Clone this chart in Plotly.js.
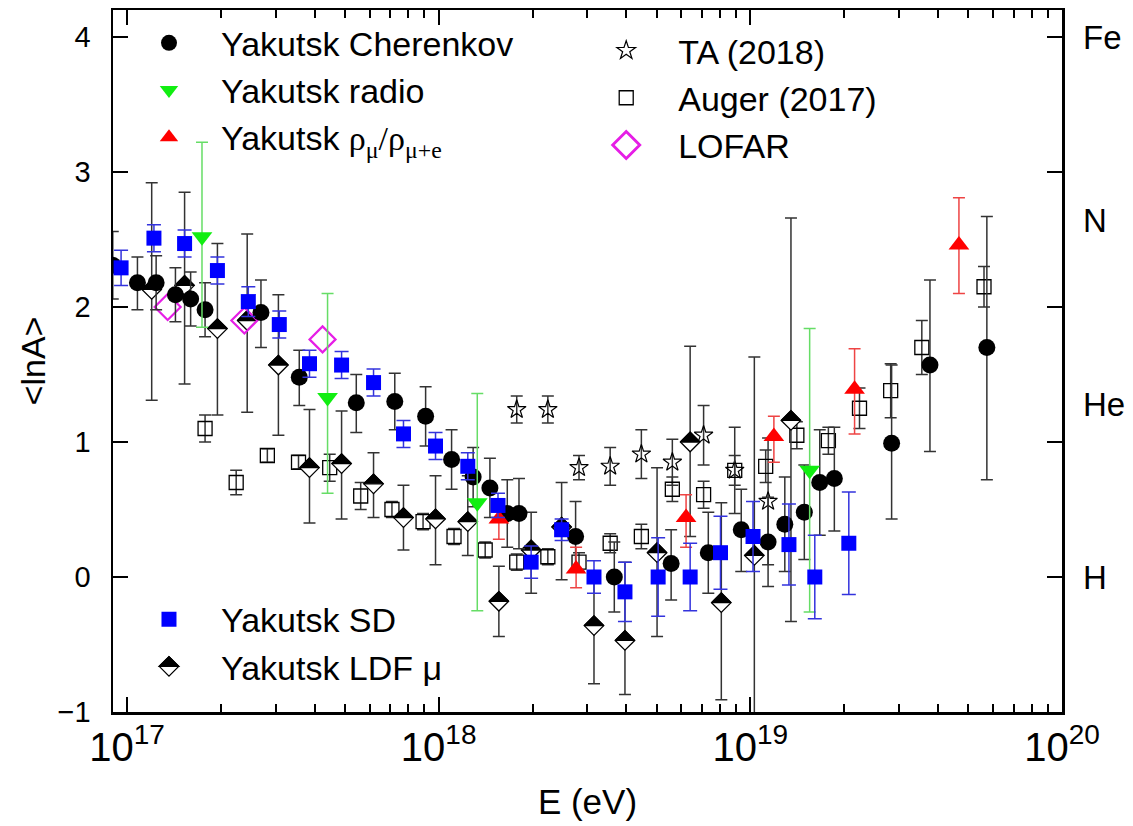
<!DOCTYPE html>
<html><head><meta charset="utf-8">
<script src="https://cdn.plot.ly/plotly-3.0.1.min.js"></script>
<style>html,body{margin:0;padding:0;background:#fff}#chart{width:1133px;height:826px}</style>
</head><body><div id="chart"></div>
<script>
// ---------- data (E in eV, <lnA>) ----------
const cherE   = [9.0e16,1.08e17,1.24e17,1.43e17,1.60e17,1.78e17,2.69e17,3.57e17,5.44e17,7.23e17,9.08e17,1.10e18,1.29e18,1.46e18,1.66e18,1.81e18,2.75e18,3.66e18,5.57e18,7.33e18,9.35e18,1.14e19,1.29e19,1.49e19,1.67e19,1.86e19,2.84e19,3.77e19,5.74e19];
const cherY   = [2.31,2.18,2.18,2.09,2.06,1.98,1.96,1.48,1.29,1.30,1.19,0.87,0.74,0.66,0.47,0.47,0.30,0.00,0.10,0.18,0.35,0.26,0.39,0.48,0.70,0.73,0.99,1.57,1.70];
const cherUp  = [0.25,0.19,0.20,0.20,0.20,0.20,0.24,0.20,0.21,0.21,0.22,0.22,0.22,0.22,0.25,0.26,0.26,0.26,0.25,0.30,0.30,0.33,0.35,0.35,0.39,0.38,0.58,0.63,0.97];
const cherLo  = [0.25,0.20,0.20,0.20,0.20,0.20,0.26,0.21,0.22,0.21,0.22,0.22,0.22,0.22,0.25,0.26,0.26,0.26,0.27,0.30,0.31,0.33,0.35,0.35,0.39,0.39,0.56,0.64,0.98];

const radioE  = [1.74e17,4.40e17,1.33e18,1.55e19];
const radioY  = [2.52,1.33,0.55,0.79];
const radioUp = [0.70,0.77,0.81,1.05];
const radioLo = [0.67,0.71,0.80,1.05];

const rhoE    = [1.56e18,2.76e18,6.22e18,1.19e19,2.16e19,4.67e19];
const rhoY    = [0.43,0.06,0.44,1.04,1.39,2.46];
const rhoUp   = [0.10,0.16,0.17,0.15,0.30,0.35];
const rhoLo   = [0.15,0.14,0.22,0.19,0.33,0.36];

const sdE     = [9.57e16,1.22e17,1.53e17,1.95e17,2.45e17,3.08e17,3.85e17,4.88e17,6.18e17,7.71e17,9.77e17,1.24e18,1.55e18,1.98e18,2.48e18,3.15e18,3.96e18,5.06e18,6.41e18,8.02e18,1.02e19,1.33e19,1.61e19,2.07e19];
const sdY     = [2.29,2.51,2.47,2.27,2.04,1.87,1.58,1.57,1.44,1.06,0.97,0.82,0.53,0.11,0.35,0.00,-0.11,0.00,0.00,0.18,0.30,0.24,0.00,0.25];
const sdErr   = [0.13,0.10,0.10,0.10,0.11,0.10,0.10,0.10,0.10,0.10,0.10,0.10,0.09,0.12,0.08,0.12,0.22,0.29,0.25,0.27,0.26,0.30,0.31,0.38];

const ldfE    = [1.20e17,1.53e17,1.95e17,2.43e17,3.06e17,3.85e17,4.88e17,6.18e17,7.71e17,9.77e17,1.24e18,1.56e18,1.98e18,2.48e18,3.15e18,3.96e18,5.02e18,6.41e18,8.07e18,1.03e19,1.35e19];
const ldfY    = [2.13,2.16,1.84,1.90,1.57,0.81,0.84,0.69,0.44,0.43,0.41,-0.18,0.20,0.37,-0.36,-0.47,0.18,1.00,-0.19,0.16,1.16];
const ldfUp   = [0.79,0.69,0.63,0.64,0.52,0.43,0.39,0.23,0.24,0.32,0.34,0.26,0.28,0.33,0.36,0.58,0.63,0.71,0.74,1.47,1.50];
const ldfLo   = [0.82,0.73,0.64,0.68,0.52,0.41,0.41,0.25,0.24,0.34,0.25,0.26,0.32,0.39,0.43,0.40,0.62,0.70,0.72,1.30,1.49];

const taE     = [1.78e18,2.24e18,2.82e18,3.55e18,4.47e18,5.62e18,7.08e18,8.91e18,1.14e19];
const taY     = [1.24,1.24,0.81,0.82,0.91,0.85,1.05,0.79,0.56];
const taErr   = [0.10,0.10,0.09,0.14,0.18,0.17,0.22,0.32,0.47];

const augerE  = [1.78e17,2.24e17,2.82e17,3.55e17,4.47e17,5.62e17,7.08e17,8.91e17,1.12e18,1.41e18,1.78e18,2.24e18,2.82e18,3.55e18,4.47e18,5.62e18,7.08e18,8.91e18,1.12e19,1.41e19,1.78e19,2.24e19,2.82e19,3.55e19,5.62e19];
const augerY  = [1.10,0.70,0.90,0.85,0.81,0.60,0.50,0.41,0.30,0.20,0.11,0.15,0.11,0.25,0.30,0.65,0.61,0.79,0.82,1.05,1.01,1.25,1.38,1.70,2.15];
const augerErr= [0.10,0.09,0.05,0.05,0.10,0.10,0.06,0.06,0.06,0.06,0.06,0.06,0.07,0.07,0.09,0.09,0.10,0.11,0.12,0.10,0.10,0.15,0.20,0.20,0.15];

const lofarE  = [1.35e17,2.38e17,4.24e17];
const lofarY  = [2.00,1.90,1.76];

const massLabels = ['Fe','N','He','H'];
const massY      = [4.0,2.64,1.28,0.0];

// ---------- styling ----------
const FONT = 'Liberation Sans, Arial, sans-serif';
const ERRK = '#333333';
const LDF_SIZE = 15;

function eb(up, lo, color, w){
  return {type:'data', symmetric: lo===undefined, array: up, arrayminus: lo, color: color, thickness: 1.5, width: w||6};
}

const traces = [
  {name:'TA (2018)', x:taE, y:taY, type:'scatter', mode:'markers', legend:'legend2', legendrank:1,
   marker:{symbol:'star-open', size:14, color:'#000', line:{width:1.2, color:'#000'}}, error_y:eb(taErr,undefined,ERRK)},
  {name:'Auger (2017)', x:augerE, y:augerY, type:'scatter', mode:'markers', legend:'legend2', legendrank:2,
   marker:{symbol:'square-open', size:14, color:'#000', line:{width:1.3, color:'#000'}}, error_y:eb(augerErr,undefined,ERRK)},
  {name:'Yakutsk LDF \u03bc', x:ldfE, y:ldfY, type:'scatter', mode:'markers', legend:'legend3', legendrank:2, legendgroup:'ldf',
   marker:{symbol:'diamond', size:LDF_SIZE, color:'#fff', line:{width:1.3, color:'#000'}}, error_y:eb(ldfUp,ldfLo,ERRK)},
  {name:'Yakutsk LDF \u03bc top', x:ldfE, y:ldfY, type:'scatter', mode:'markers', showlegend:false, legendgroup:'ldf', hoverinfo:'skip',
   marker:{symbol:'diamond', size:LDF_SIZE, color:'#000', line:{width:1.3, color:'#000'}}},
  {name:'LOFAR', x:lofarE, y:lofarY, type:'scatter', mode:'markers', legend:'legend2', legendrank:3,
   marker:{symbol:'diamond-open', size:20, color:'#e61ee6', line:{width:2.2, color:'#e61ee6'}}},
  {name:'Yakutsk Cherenkov', x:cherE, y:cherY, type:'scatter', mode:'markers', legend:'legend', legendrank:1,
   marker:{symbol:'circle', size:17, color:'#000'}, error_y:eb(cherUp,cherLo,ERRK)},
  {name:'Yakutsk radio', x:radioE, y:radioY, type:'scatter', mode:'markers', legend:'legend', legendrank:2,
   marker:{symbol:'triangle-down', size:18, color:'#11ee11'}, error_y:eb(radioUp,radioLo,'#66dd66')},
  {name:'Yakutsk <span style="font-family:Liberation Serif,Times New Roman,serif">\u03c1<sub>\u03bc</sub>/\u03c1<sub>\u03bc+e</sub></span>', x:rhoE, y:rhoY, type:'scatter', mode:'markers', legend:'legend', legendrank:3,
   marker:{symbol:'triangle-up', size:18, color:'#ff0000'}, error_y:eb(rhoUp,rhoLo,'#ee4444')},
  {name:'Yakutsk SD', x:sdE, y:sdY, type:'scatter', mode:'markers', legend:'legend3', legendrank:1,
   marker:{symbol:'square', size:15, color:'#0000ff'}, error_y:eb(sdErr,undefined,'#3333dd',7)}
];
const LDF_TOP_INDEX = 3;

const legendBase = {xanchor:'left', yanchor:'top', bgcolor:'rgba(0,0,0,0)', borderwidth:0,
  font:{family:FONT, size:34, color:'#000'}, itemwidth:94, tracegroupgap:0};

const annotations = massLabels.map((t,i)=>({text:t, xref:'paper', yref:'y', x:1.02, y:massY[i],
  xanchor:'left', yanchor:'middle', showarrow:false, font:{family:FONT, size:33, color:'#000'}}));

const layout = {
  width:1133, height:826,
  margin:{l:113, r:71, t:10, b:114},
  paper_bgcolor:'#fff', plot_bgcolor:'#fff',
  font:{family:FONT, color:'#000'},
  showlegend:true,
  xaxis:{type:'log', range:[16.955,20], dtick:1, exponentformat:'power', showexponent:'all',
    ticks:'inside', ticklen:15, tickwidth:2, tickcolor:'#000', mirror:'allticks',
    showline:true, linewidth:2.5, linecolor:'#000', showgrid:false, zeroline:false,
    minor:{ticks:'inside', ticklen:8, tickwidth:2, tickcolor:'#000', dtick:'D1', showgrid:false},
    tickfont:{family:FONT, size:32, color:'#000'}, ticklabelstandoff:0,
    title:{text:'E (eV)', font:{family:FONT, size:35, color:'#000'}, standoff:22}},
  yaxis:{range:[-1,4.2], dtick:1, ticks:'inside', ticklen:15, tickwidth:2, tickcolor:'#000', mirror:'allticks',
    showline:true, linewidth:2.5, linecolor:'#000', showgrid:false, zeroline:false,
    tickfont:{family:FONT, size:29, color:'#000'}, ticklabelstandoff:14,
    title:{text:'&lt;lnA&gt;', font:{family:FONT, size:34, color:'#000'}, standoff:2}},
  legend:Object.assign({}, legendBase, {x:0.0042, y:0.994}),
  legend2:Object.assign({}, legendBase, {x:0.486, y:0.983}),
  legend3:Object.assign({}, legendBase, {x:0.0042, y:0.173}),
  annotations:annotations
};

function halfPath(rd){ return 'M'+rd+',0L0,-'+rd+'L-'+rd+',0Z'; }

function fixMarkers(){
  const gd = document.getElementById('chart');
  const groups = gd.querySelectorAll('.cartesianlayer .scatterlayer .trace');
  const g = groups[LDF_TOP_INDEX];
  if(g){
    const rd = (LDF_SIZE/2*1.3).toFixed(2);
    g.querySelectorAll('path.point').forEach(p=>p.setAttribute('d', halfPath(rd)));
  }
  gd.querySelectorAll('g.traces').forEach(it=>{
    const t = it.querySelector('text');
    if(!t) return;
    const txt = t.textContent || '';
    const p = it.querySelector('path.scatterpts');
    if(!p) return;
    if(txt.indexOf('LDF')>=0 && !it.querySelector('path.halftop')){
      const c = p.cloneNode(true);
      c.setAttribute('class','halftop');
      const lrd = (Math.min(LDF_SIZE,16)/2*1.3).toFixed(2);
      c.setAttribute('d', halfPath(lrd));
      c.style.fill = '#000';
      p.parentNode.appendChild(c);
    }
    if(txt.indexOf('LOFAR')>=0 && !p.getAttribute('data-scaled')){
      const tr = p.getAttribute('transform') || '';
      p.setAttribute('transform', tr + ' scale(1.3)');
      p.setAttribute('data-scaled','1');
    }
  });
}

Plotly.newPlot('chart', traces, layout, {displayModeBar:false, staticPlot:true}).then(gd=>{
  fixMarkers();
  gd.on('plotly_afterplot', fixMarkers);
  setTimeout(fixMarkers, 50);
  setTimeout(fixMarkers, 300);
});
</script></body></html>
